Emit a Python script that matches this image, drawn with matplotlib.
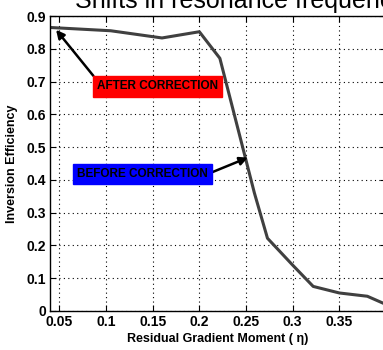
import numpy as np
import matplotlib.pyplot as plt

# residual gradient moment vs inversion efficiency
moment = [0.04, 0.105, 0.16, 0.2, 0.222, 0.259, 0.273, 0.3, 0.322, 0.35, 0.38, 0.4]
efficiency = [0.865, 0.855, 0.833, 0.852, 0.771, 0.36, 0.222, 0.14, 0.075, 0.055, 0.045, 0.02]
xticks = [0.05, 0.1, 0.15, 0.2, 0.25, 0.3, 0.35]
yticks = [0, 0.1, 0.2, 0.3, 0.4, 0.5, 0.6, 0.7, 0.8, 0.9]

plt.rcParams['font.family'] = ['Liberation Sans', 'DejaVu Sans']

fig = plt.figure(figsize=(3.83, 3.5), dpi=100)
ax = fig.add_axes([50 / 383, 39 / 350, 336 / 383, 295 / 350])

ax.plot(moment, efficiency, color='#404040', lw=2.2)

ax.set_xlim(0.04, 0.4)
ax.set_ylim(0, 0.9)
ax.set_xticks(xticks)
ax.set_xticklabels([('%g' % t) for t in xticks], fontweight='bold', fontsize=10)
ax.set_yticks(yticks)
ax.set_yticklabels([('%g' % t) for t in yticks], fontweight='bold', fontsize=10)
ax.tick_params(direction='in', length=4, top=True, right=True, pad=3)
ax.grid(True, color='black', linestyle=(0, (1, 3)), linewidth=0.8)
for s in ax.spines.values():
    s.set_linewidth(1.0)

ax.set_xlabel('Residual Gradient Moment ( η)', fontweight='bold', fontsize=9, labelpad=3)
ax.set_ylabel('Inversion Efficiency', fontweight='bold', fontsize=9, labelpad=6)

# title is cropped by the top/right edge in the original picture
fig.text(75 / 383, 1 - 8 / 350, 'Shifts in resonance frequency',
         fontsize=18, va='baseline', ha='left')

ax.annotate('AFTER CORRECTION', xy=(0.0465, 0.858), xytext=(0.0905, 0.685),
            fontsize=8.5, fontweight='bold', va='center', ha='left',
            bbox=dict(boxstyle='square,pad=0.35', fc='red', ec='red'),
            arrowprops=dict(arrowstyle='-|>', color='black', lw=1.8, mutation_scale=12,
                            shrinkA=0, shrinkB=0, relpos=(0, 1)))
ax.annotate('BEFORE CORRECTION', xy=(0.252, 0.468), xytext=(0.069, 0.418),
            fontsize=8.5, fontweight='bold', va='center', ha='left',
            bbox=dict(boxstyle='square,pad=0.35', fc='blue', ec='blue'),
            arrowprops=dict(arrowstyle='-|>', color='black', lw=1.8, mutation_scale=12,
                            shrinkA=0, shrinkB=0, relpos=(1, 0.5)))

fig.savefig('out.png', dpi=100)
